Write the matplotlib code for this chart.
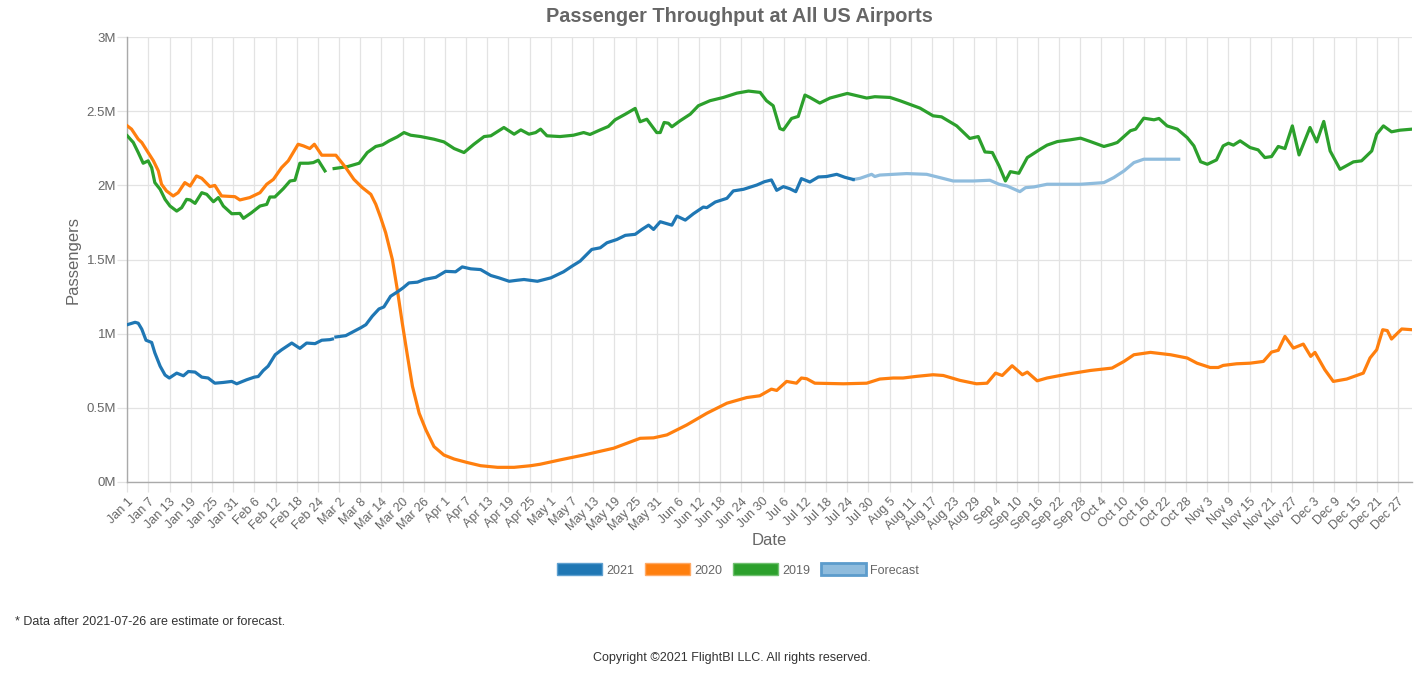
import numpy as np
import matplotlib
matplotlib.use("Agg")
import matplotlib.pyplot as plt
from matplotlib.patches import Patch

plt.rcParams['font.family'] = ['Liberation Sans', 'DejaVu Sans']

nan = float('nan')

# ---- data (day index from Jan 1, passengers in millions) ----
days_2021 = [0, 2.2, 3.1, 4.1, 5.3, 6.9, 7.8, 9.3, 10.7, 11.9, 14, 15.9, 17.3, 19.2, 21.1, 22.9,
             24.8, 27.2, 29.6, 31, 33.8, 36, 37.1, 38.5, 39.9, 41.9, 43.7, 46.6, 48.9, 50.8, 53.2,
             55.1, 57.4, 58.1, 58.6, 59.1, 61.9, 64.2, 66.2, 67.6, 69.4, 71.3, 72.7, 74.6, 76.5,
             78.1, 79.8, 82.2, 84.1, 87.4, 90.2, 93, 94.9, 97.3, 100.1, 103, 105.3, 108.2, 110.5,
             112.4, 116.2, 120, 123.6, 126, 128.3, 131.6, 134, 135.9, 138.7, 141.1, 143.9, 145.8,
             147.7, 149.1, 151, 154.3, 155.7, 158.1, 160.4, 163.2, 164.2, 166.6, 169.9, 171.7,
             174.6, 178.4, 180.5, 182.5, 184, 185.9, 187.7, 189.4, 191, 193.4, 195.8, 198.1, 201,
             203.3, 205.7]
pax_2021 = [1.06, 1.076, 1.07, 1.03, 0.955, 0.94, 0.87, 0.78, 0.72, 0.70, 0.733, 0.715, 0.744, 0.74,
            0.706, 0.70, 0.665, 0.67, 0.677, 0.661, 0.688, 0.706, 0.71, 0.75, 0.78, 0.857, 0.89,
            0.936, 0.90, 0.936, 0.932, 0.955, 0.959, 0.963, nan, 0.977, 0.986, 1.015, 1.04, 1.06,
            1.117, 1.166, 1.18, 1.252, 1.281, 1.308, 1.342, 1.347, 1.365, 1.38, 1.42, 1.417, 1.45,
            1.437, 1.432, 1.392, 1.376, 1.353, 1.36, 1.365, 1.353, 1.376, 1.417, 1.455, 1.489,
            1.568, 1.579, 1.613, 1.635, 1.663, 1.67, 1.703, 1.732, 1.703, 1.755, 1.732, 1.793,
            1.766, 1.809, 1.854, 1.85, 1.888, 1.913, 1.963, 1.974, 2.003, 2.025, 2.037, 1.967,
            1.992, 1.978, 1.958, 2.046, 2.023, 2.057, 2.06, 2.075, 2.055, 2.04]

days_forecast = [205.7, 207.6, 210.9, 211.8, 213.2, 217, 220.8, 226.5, 230.2, 234, 239.7, 244.4,
                 247, 249.3, 252.9, 254.5, 256.9, 260.6, 270.1, 276.7, 279.5, 282.4, 285.2, 288,
                 297.9]
pax_forecast = [2.04, 2.048, 2.075, 2.06, 2.07, 2.075, 2.08, 2.075, 2.053, 2.03, 2.03, 2.035,
                2.008, 1.996, 1.958, 1.985, 1.99, 2.008, 2.008, 2.019, 2.053, 2.098, 2.154, 2.177,
                2.177]

days_2020 = [0, 1.2, 3.1, 4.1, 5.9, 7.4, 8.8, 9.7, 11.1, 13, 14.4, 16.3, 17.8, 19.6, 21.1, 23.4,
             24.8, 26.7, 30.5, 31.9, 34.7, 37.6, 39.5, 41.4, 43.7, 45.6, 48.4, 49.9, 51.7, 53,
             55.1, 57.4, 59.1, 61.9, 64.2, 66.6, 69, 70.4, 71.8, 73.2, 75.1, 76.5, 77.9, 79.4,
             80.8, 82.7, 84.6, 86.9, 89.7, 92.6, 96.4, 100.1, 104.9, 109.6, 114.3, 117, 122.6,
             129.3, 137.8, 141.5, 145.3, 149.1, 152.9, 158.5, 164.2, 169.9, 175.5, 179.2, 182.5,
             184, 186.8, 189.6, 191, 192.5, 194.8, 202.9, 209.5, 213.2, 217, 219.8, 223.6, 228.3,
             231.2, 235.9, 240.6, 243.6, 246, 247.9, 250.7, 253.6, 255, 257.8, 260.6, 266.3,
             272.9, 279, 282.4, 285.2, 289.9, 295.6, 300.3, 303.1, 306.8, 309.1, 310.5, 314.3,
             318.1, 321.9, 324.2, 326.1, 328, 330.4, 333.2, 335.3, 336.5, 339.3, 341.7, 345.5,
             350.2, 352.1, 354, 355.7, 357, 358.2, 361.1, 364]
pax_2020 = [2.402, 2.38, 2.312, 2.29, 2.222, 2.166, 2.098, 2.008, 1.963, 1.929, 1.951, 2.019,
            1.996, 2.064, 2.048, 1.992, 2.0, 1.929, 1.924, 1.902, 1.918, 1.951, 2.008, 2.041,
            2.12, 2.166, 2.278, 2.267, 2.249, 2.278, 2.204, 2.204, 2.204, 2.12, 2.041, 1.985,
            1.94, 1.873, 1.782, 1.681, 1.50, 1.297, 1.072, 0.846, 0.643, 0.462, 0.35, 0.237,
            0.18, 0.153, 0.129, 0.108, 0.097, 0.097, 0.108, 0.118, 0.147, 0.18, 0.226, 0.259,
            0.293, 0.296, 0.316, 0.383, 0.462, 0.53, 0.568, 0.58, 0.625, 0.616, 0.677, 0.665,
            0.70, 0.695, 0.665, 0.661, 0.665, 0.693, 0.70, 0.70, 0.711, 0.722, 0.717, 0.684,
            0.661, 0.665, 0.733, 0.717, 0.783, 0.722, 0.74, 0.681, 0.70, 0.726, 0.751, 0.767,
            0.812, 0.857, 0.873, 0.857, 0.835, 0.80, 0.771, 0.771, 0.785, 0.796, 0.80, 0.812,
            0.875, 0.887, 0.981, 0.902, 0.929, 0.846, 0.873, 0.756, 0.677, 0.693, 0.733, 0.835,
            0.891, 1.026, 1.02, 0.963, 1.031, 1.026]

days_2019 = [0, 1.7, 3.1, 4.5, 5.9, 6.9, 7.8, 9.3, 10.7, 12.1, 14, 15.4, 16.8, 17.8, 19.2, 21.1,
             22.5, 24.4, 25.8, 27.2, 29.6, 31.9, 32.9, 35.2, 37.6, 39.5, 40.4, 41.8, 44.2, 46.1,
             47.5, 48.9, 51.3, 52.7, 54.1, 56, 57, 58.6, 62.4, 65.7, 68, 70.4, 72.3, 74.2, 76.5,
             78.4, 80.3, 83.1, 86.9, 89.7, 92.6, 95.4, 98.2, 101.1, 103, 106.7, 109.6, 111.5,
             113.8, 115.7, 117.1, 118.9, 122.6, 126.4, 129.3, 131.1, 134, 136.3, 138.2, 141.1,
             143.9, 145.3, 147.2, 150, 151, 152.1, 153.3, 154.3, 156.6, 159.5, 161.8, 165.1,
             168.9, 172.7, 176, 179.3, 181.1, 183, 184.9, 185.9, 188.2, 190.1, 192, 193.4, 196.2,
             199.1, 204, 209.5, 211.8, 216.1, 218.9, 224.6, 228.3, 230.7, 235, 238.7, 241.1, 243,
             245.1, 247, 248.8, 250.2, 252.6, 255, 258.7, 260.6, 263.5, 267.2, 270.1, 272.9,
             276.7, 279, 280.5, 284.2, 285.7, 288, 290.9, 292.3, 294.6, 297.5, 300.3, 302.2,
             304.1, 306, 308.6, 310.5, 312, 313.4, 315.3, 318.1, 320.4, 322.3, 324.2, 326.1, 328,
             330.1, 332, 335.1, 337, 339, 340.8, 343.6, 347.4, 349.7, 352.6, 354, 355.9, 358.2,
             360.6, 364]
pax_2019 = [2.335, 2.29, 2.222, 2.15, 2.166, 2.12, 2.019, 1.974, 1.906, 1.861, 1.827, 1.85, 1.906,
            1.902, 1.879, 1.951, 1.94, 1.89, 1.918, 1.861, 1.809, 1.811, 1.778, 1.816, 1.861,
            1.872, 1.922, 1.922, 1.978, 2.03, 2.035, 2.15, 2.15, 2.154, 2.17, 2.098, nan, 2.114,
            2.127, 2.15, 2.222, 2.263, 2.274, 2.301, 2.328, 2.357, 2.339, 2.33, 2.312, 2.294,
            2.249, 2.222, 2.278, 2.33, 2.335, 2.391, 2.346, 2.375, 2.346, 2.357, 2.38, 2.335,
            2.33, 2.339, 2.357, 2.344, 2.375, 2.398, 2.443, 2.481, 2.52, 2.43, 2.447, 2.357,
            2.357, 2.425, 2.42, 2.396, 2.436, 2.481, 2.538, 2.572, 2.594, 2.623, 2.637, 2.628,
            2.572, 2.538, 2.384, 2.375, 2.452, 2.466, 2.61, 2.594, 2.556, 2.59, 2.621, 2.59,
            2.599, 2.594, 2.572, 2.522, 2.47, 2.463, 2.402, 2.317, 2.33, 2.226, 2.222, 2.132,
            2.03, 2.093, 2.082, 2.188, 2.245, 2.272, 2.296, 2.308, 2.319, 2.296, 2.263, 2.278,
            2.29, 2.369, 2.38, 2.454, 2.443, 2.452, 2.402, 2.38, 2.323, 2.267, 2.16, 2.143,
            2.172, 2.267, 2.285, 2.272, 2.301, 2.256, 2.24, 2.188, 2.195, 2.263, 2.249, 2.402,
            2.206, 2.391, 2.294, 2.432, 2.233, 2.109, 2.159, 2.166, 2.233, 2.346, 2.402, 2.362,
            2.373, 2.38]

tick_days = list(range(0, 361, 6))
tick_labels = ["Jan 1", "Jan 7", "Jan 13", "Jan 19", "Jan 25", "Jan 31", "Feb 6", "Feb 12",
               "Feb 18", "Feb 24", "Mar 2", "Mar 8", "Mar 14", "Mar 20", "Mar 26", "Apr 1",
               "Apr 7", "Apr 13", "Apr 19", "Apr 25", "May 1", "May 7", "May 13", "May 19",
               "May 25", "May 31", "Jun 6", "Jun 12", "Jun 18", "Jun 24", "Jun 30", "Jul 6",
               "Jul 12", "Jul 18", "Jul 24", "Jul 30", "Aug 5", "Aug 11", "Aug 17", "Aug 23",
               "Aug 29", "Sep 4", "Sep 10", "Sep 16", "Sep 22", "Sep 28", "Oct 4", "Oct 10",
               "Oct 16", "Oct 22", "Oct 28", "Nov 3", "Nov 9", "Nov 15", "Nov 21", "Nov 27",
               "Dec 3", "Dec 9", "Dec 15", "Dec 21", "Dec 27"]
y_ticks = [0, 0.5, 1, 1.5, 2, 2.5, 3]
y_labels = ["0M", "0.5M", "1M", "1.5M", "2M", "2.5M", "3M"]

C2021 = '#1f77b4'
C2020 = '#ff7f0e'
C2019 = '#2ca02c'
CFC = '#8fbcdd'
TXT = '#666666'

fig = plt.figure(figsize=(14.28, 6.74), dpi=100)
ax = fig.add_axes([127.3 / 1428, 1 - 481.7 / 674, (1412 - 127.3) / 1428, (481.7 - 37.3) / 674])

lw = 2.3
ax.plot(days_2019, pax_2019, color=C2019, lw=lw, solid_joinstyle='round', zorder=3)
ax.plot(days_2020, pax_2020, color=C2020, lw=lw, solid_joinstyle='round', zorder=4)
ax.plot(days_forecast, pax_forecast, color=CFC, lw=lw, solid_joinstyle='round', zorder=5)
ax.plot(days_2021, pax_2021, color=C2021, lw=lw, solid_joinstyle='round', zorder=6)

ax.set_xlim(0, 364)
ax.set_ylim(0, 3)
ax.set_xticks(tick_days)
ax.set_xticklabels(tick_labels, rotation=45, ha='right', rotation_mode='anchor',
                   fontsize=9, color=TXT)
ax.set_yticks(y_ticks)
ax.set_yticklabels(y_labels, fontsize=9.5, color=TXT)
ax.grid(True, color='#e3e3e3', lw=0.9)
ax.set_axisbelow(True)
ax.tick_params(axis='x', length=7, width=0.9, color='#e3e3e3', pad=3)
ax.tick_params(axis='y', length=7, width=0.9, color='#e3e3e3', pad=1)
for s in ['top', 'right']:
    ax.spines[s].set_visible(False)
for s in ['left', 'bottom']:
    ax.spines[s].set_color('#aaaaaa')
    ax.spines[s].set_linewidth(1.0)

ax.set_xlabel("Date", fontsize=12, color=TXT, labelpad=0)
ax.set_ylabel("Passengers", fontsize=12, color=TXT, labelpad=4)

fig.text(739 / 1428, 1 - 16 / 674, "Passenger Throughput at All US Airports", ha='center',
         va='center', fontsize=14.3, fontweight='bold', color=TXT)

handles = [Patch(facecolor=C2021, edgecolor='#5fa0d0', lw=1, label='2021'),
           Patch(facecolor=C2020, edgecolor='#ffaa66', lw=1, label='2020'),
           Patch(facecolor=C2019, edgecolor='#70c070', lw=1, label='2019'),
           Patch(facecolor=CFC, edgecolor='#5c9ccc', lw=2, label='Forecast')]
fig.legend(handles=handles, loc='center', bbox_to_anchor=(738 / 1428, 1 - 570 / 674), ncol=4,
           frameon=False, fontsize=9, handlelength=3.6, handleheight=1.1, handletextpad=0.3,
           columnspacing=0.9, labelcolor=TXT)

fig.text(15 / 1428, 1 - 622 / 674, "* Data after 2021-07-26 are estimate or forecast.",
         ha='left', va='center', fontsize=9, color='#333333')
fig.text(732 / 1428, 1 - 658 / 674, "Copyright \u00a92021 FlightBI LLC. All rights reserved.",
         ha='center', va='center', fontsize=9, color='#333333')

fig.savefig("out.png", dpi=100)
